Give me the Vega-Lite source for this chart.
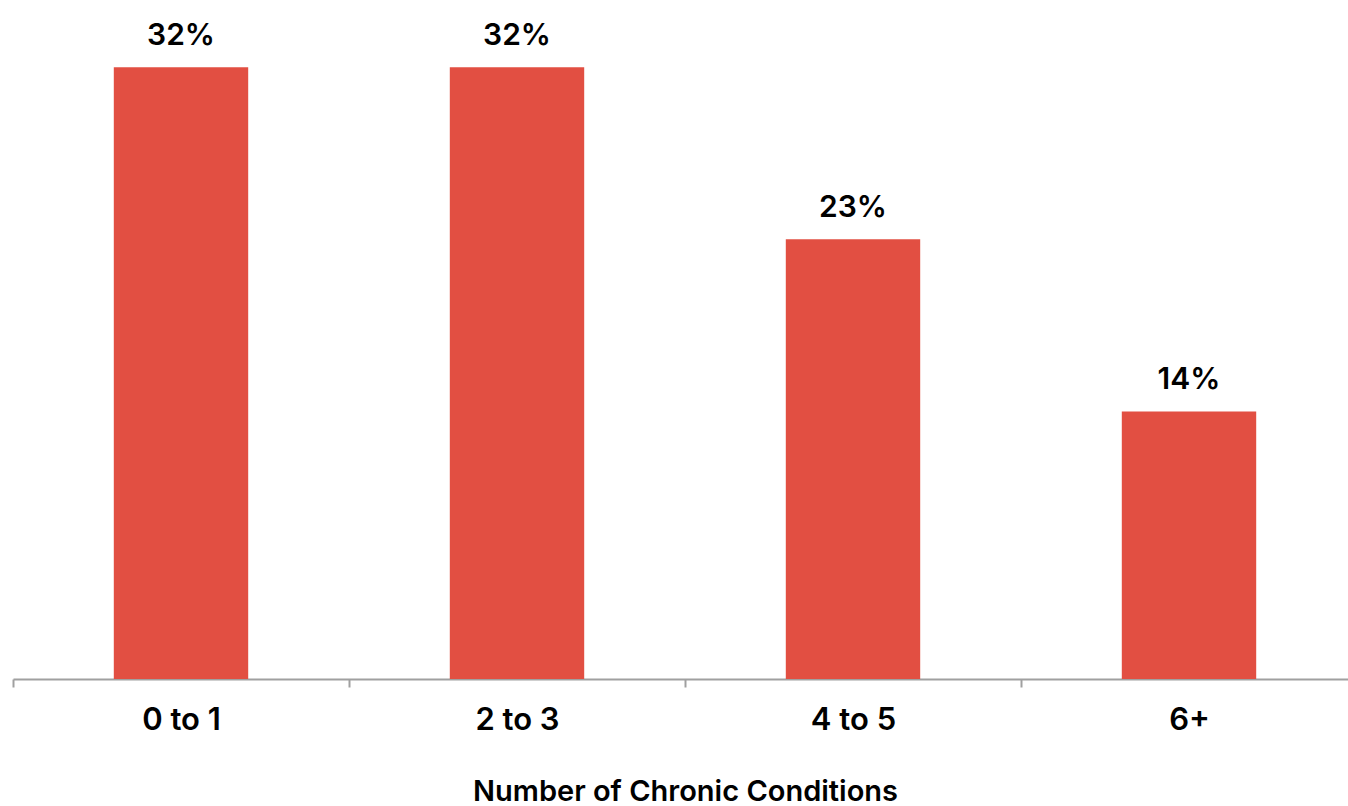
{
  "$schema": "https://vega.github.io/schema/vega-lite/v6.json",
  "width": 1335,
  "height": 669,
  "autosize": "none",
  "padding": {"left": 13, "top": 10, "right": 0, "bottom": 127},
  "background": "white",
  "config": {"view": {"stroke": null}},
  "data": {"values": [
    {"cat": "0 to 1", "pct": 0.32},
    {"cat": "2 to 3", "pct": 0.32},
    {"cat": "4 to 5", "pct": 0.23},
    {"cat": "6+", "pct": 0.14}
  ]},
  "encoding": {
    "x": {
      "field": "cat", "type": "nominal", "sort": null,
      "scale": {"range": [0, 1344], "paddingInner": 0, "paddingOuter": 0},
      "axis": {
        "tickBand": "extent",
        "domainColor": "#a0a0a0", "domainWidth": 2,
        "tickColor": "#a0a0a0", "tickWidth": 2, "tickSize": 8,
        "labelAngle": 0, "labelFont": "Inter", "labelFontSize": 31, "labelFontWeight": 600,
        "labelColor": "#000000", "labelBaseline": "alphabetic", "labelPadding": 42,
        "title": "Number of Chronic Conditions",
        "titleFont": "Inter", "titleFontSize": 29, "titleFontWeight": 600, "titleColor": "#000000",
        "titlePadding": 42
      }
    },
    "y": {"field": "pct", "type": "quantitative", "scale": {"domain": [0, 0.35]}, "axis": null}
  },
  "layer": [
    {"mark": {"type": "bar", "color": "#e24f42", "width": {"band": 0.4}}},
    {
      "mark": {"type": "text", "dy": -22, "baseline": "alphabetic", "font": "Inter", "fontSize": 30, "fontWeight": 600, "color": "#000000"},
      "encoding": {"text": {"field": "pct", "type": "quantitative", "format": ".0%"}}
    }
  ]
}
